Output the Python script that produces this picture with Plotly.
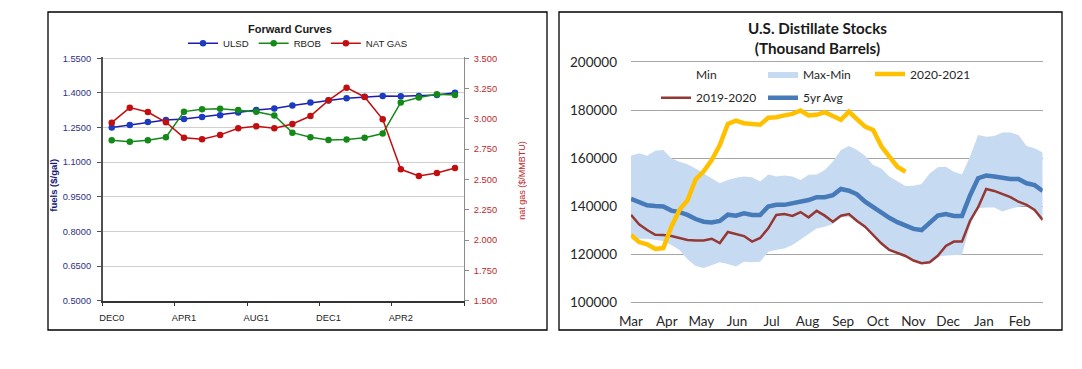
import plotly.graph_objects as go
import pandas as pd

# ---------------- Left chart: Forward Curves ----------------
fc_months = ["DEC0", "JAN1", "FEB1", "MAR1", "APR1", "MAY1", "JUN1", "JUL1", "AUG1", "SEP1",
             "OCT1", "NOV1", "DEC1", "JAN2", "FEB2", "MAR2", "APR2", "MAY2", "JUN2", "JUL2"]
fc_label_months = ["DEC0", "APR1", "AUG1", "DEC1", "APR2"]
ulsd = [1.250, 1.261, 1.274, 1.283, 1.287, 1.296, 1.303, 1.315, 1.326, 1.333,
        1.346, 1.358, 1.367, 1.377, 1.383, 1.387, 1.386, 1.387, 1.391, 1.401]
rbob = [1.195, 1.188, 1.195, 1.208, 1.319, 1.329, 1.331, 1.326, 1.318, 1.302,
        1.228, 1.208, 1.196, 1.198, 1.206, 1.224, 1.359, 1.380, 1.394, 1.391]
natgas = [2.969, 3.093, 3.057, 2.972, 2.845, 2.832, 2.868, 2.923, 2.939, 2.923,
          2.958, 3.024, 3.153, 3.258, 3.181, 2.997, 2.584, 2.529, 2.554, 2.595]

# ---------------- Right chart: U.S. Distillate Stocks ----------------
week_start = "2020-03-01"
stock_max = [161100, 162100, 161100, 163100, 163500, 160000, 158600, 157500, 155800, 153700,
             151700, 149600, 151000, 151900, 152400, 152100, 150300, 153300, 152400, 152800,
             152400, 151000, 153100, 153300, 155100, 158600, 163500, 165100, 163500, 161100,
             157200, 155800, 152400, 150600, 148500, 148600, 149300, 153700, 156300, 156500,
             154400, 153300, 160700, 169700, 169000, 169300, 170700, 170700, 169700, 165100,
             164200, 162400]
stock_min = [127500, 126500, 126500, 126000, 125500, 123900, 121800, 117900, 115100, 114300,
             115600, 116700, 116000, 114900, 116900, 116700, 116900, 121100, 121900, 122400,
             123900, 126300, 128500, 130800, 131500, 132600, 135300, 135500, 133500, 131000,
             127800, 124300, 121500, 120100, 119000, 117100, 116000, 116400, 119000, 119500,
             119800, 119800, 132000, 139200, 139500, 139500, 137800, 139000, 139800, 140300,
             138300, 134000]
avg_5yr = [143100, 141700, 140400, 140100, 139900, 138200, 137600, 136400, 134700, 133600,
           133300, 133900, 136500, 136100, 137100, 136400, 136400, 139900, 140600, 140600,
           141300, 141800, 142600, 143800, 143800, 144600, 147200, 146500, 145000, 141900,
           139600, 137800, 135200, 133400, 131900, 130600, 130100, 132900, 136100, 136800,
           136000, 136000, 144500, 151700, 152800, 152400, 151700, 151400, 151400, 149600,
           148800, 146400]
y2019_2020 = [136400, 132500, 130100, 128100, 128000, 127600, 126800, 126000, 125700, 125800,
              126500, 124700, 129300, 128500, 127600, 125300, 126800, 130800, 136400, 136800,
              136000, 137600, 135400, 138100, 136100, 133600, 136100, 136800, 133900, 131500,
              128100, 124600, 121800, 120400, 119300, 117400, 116300, 116700, 119400, 123500,
              125300, 125300, 134000, 139600, 147200, 146400, 145100, 143800, 141900, 140600,
              138500, 134300]
y2020_2021 = [128100, 125100, 124200, 122200, 122600, 131500, 138500, 142500, 151200, 154600,
              159300, 165500, 174300, 175700, 174600, 174400, 174000, 176900, 177100, 177900,
              178500, 179900, 177900, 178100, 179200, 177600, 176000, 179400, 176300, 173200,
              171800, 165100, 160700, 156500, 154400]

# The page body has an 8px margin, so the figure is 16px smaller than the window
OFF = 8
W, H = 1082 - 2 * OFF, 369 - 2 * OFF


def px(x):
    return (x - OFF) / W


def py(y):
    return 1 - (y - OFF) / H


fc_x = list(range(len(fc_months)))
fc_tickvals = [fc_months.index(m) for m in fc_label_months]
dates = pd.date_range(week_start, periods=len(avg_5yr), freq="7D")

LS = "Liberation Sans, Arial, sans-serif"
LATO = "Lato, Carlito, Calibri, sans-serif"

fig = go.Figure()

# Left chart traces
fig.add_trace(go.Scatter(x=fc_x, y=ulsd, name="ULSD", mode="lines+markers",
                         line=dict(color="#1c1cb4", width=1.5),
                         marker=dict(size=6.5, color="#1b3cc0"),
                         xaxis="x", yaxis="y", legend="legend"))
fig.add_trace(go.Scatter(x=fc_x, y=rbob, name="RBOB", mode="lines+markers",
                         line=dict(color="#138a18", width=1.5),
                         marker=dict(size=6.5, color="#138a18"),
                         xaxis="x", yaxis="y", legend="legend"))
fig.add_trace(go.Scatter(x=fc_x, y=natgas, name="NAT GAS", mode="lines+markers",
                         line=dict(color="#c20e0e", width=1.5),
                         marker=dict(size=6.5, color="#c20e0e"),
                         xaxis="x", yaxis="y2", legend="legend"))

# Right chart traces
fig.add_trace(go.Scatter(x=dates, y=stock_min, name="Min", mode="lines",
                         line=dict(width=0, color="rgba(0,0,0,0)"),
                         xaxis="x3", yaxis="y3", legend="legend2"))
fig.add_trace(go.Scatter(x=dates, y=stock_max, name="Max-Min", mode="lines",
                         line=dict(width=0, color="rgba(0,0,0,0)"),
                         fill="tonexty", fillcolor="#c6daf1",
                         xaxis="x3", yaxis="y3", legend="legend2"))
fig.add_trace(go.Scatter(x=dates, y=y2019_2020, name="2019-2020", mode="lines",
                         line=dict(color="#953735", width=2.5),
                         xaxis="x3", yaxis="y3", legend="legend3"))
fig.add_trace(go.Scatter(x=dates, y=avg_5yr, name="5yr Avg", mode="lines",
                         line=dict(color="#467ab9", width=4.5),
                         xaxis="x3", yaxis="y3", legend="legend3"))
fig.add_trace(go.Scatter(x=dates[:len(y2020_2021)], y=y2020_2021, name="2020-2021", mode="lines",
                         line=dict(color="#ffc000", width=4.5),
                         xaxis="x3", yaxis="y3", legend="legend2"))

left_top = 58.3 - 1.5
fig.update_layout(
    template="none",
    width=W, height=H,
    margin=dict(l=0, r=0, t=0, b=0, pad=0, autoexpand=False),
    paper_bgcolor="white", plot_bgcolor="white",
    showlegend=True,
    xaxis=dict(domain=[px(102.7), px(464)], anchor="y", range=[-0.5, 19.5], automargin=False,
               tickmode="array", tickvals=fc_tickvals,
               ticktext=[fc_months[i] for i in fc_tickvals],
               ticks="", showgrid=False, zeroline=False,
               showline=True, linecolor="#333333", linewidth=1.5,
               minor=dict(ticks="outside", tick0=-0.5, dtick=4, ticklen=4,
                          tickcolor="#333333", showgrid=False),
               tickfont=dict(family=LS, size=9.3, color="#1a1a1a"),
               ticklabelstandoff=7),
    yaxis=dict(domain=[py(300.7), py(left_top)], anchor="x", automargin=False,
               range=[0.5, 1.55 + 1.5 * 1.05 / 242.4],
               tickmode="linear", tick0=0.5, dtick=0.15, tickformat=".4f",
               showgrid=True, gridcolor="#d0d0d0", gridwidth=1, zeroline=False,
               showline=True, linecolor="#505050", linewidth=1.5,
               ticks="outside", ticklen=4, tickcolor="#505050",
               tickfont=dict(family=LS, size=9.3, color="#30307e"),
               ticklabelstandoff=4),
    yaxis2=dict(domain=[py(300.7), py(left_top)], anchor="x", overlaying="y", side="right",
                automargin=False,
                range=[1.5, 3.5 + 1.5 * 2.0 / 242.4],
                tickmode="linear", tick0=1.5, dtick=0.25, tickformat=".3f",
                showgrid=False, zeroline=False,
                showline=True, linecolor="#8c8c8c", linewidth=1,
                ticks="outside", ticklen=4, tickcolor="#8c8c8c",
                tickfont=dict(family=LS, size=9.3, color="#c0282d"),
                ticklabelstandoff=3),
    xaxis3=dict(domain=[px(631), px(1042.7)], anchor="y3", type="date", automargin=False,
                range=[dates[0], dates[-1]],
                tickformat="%b", dtick="M1", tick0=week_start,
                ticks="", showgrid=False, zeroline=False,
                showline=True, mirror=True, linecolor="#a6a6a6", linewidth=1,
                tickfont=dict(family=LATO, size=13.5, color="#262626"),
                ticklabelstandoff=6),
    yaxis3=dict(domain=[py(302.3), py(62.3)], anchor="x3", automargin=False,
                range=[100000, 200000], tickmode="linear", tick0=100000, dtick=20000,
                tickformat="d", showgrid=True, gridcolor="#a6a6a6", gridwidth=1,
                zeroline=False, showline=False, ticks="",
                tickfont=dict(family=LATO, size=13.5, color="#262626"),
                ticklabelstandoff=13),
    legend=dict(orientation="h", x=px(183), xanchor="left", y=py(43.3), yanchor="middle",
                bgcolor="rgba(0,0,0,0)", itemwidth=30, traceorder="normal",
                font=dict(family=LS, size=9.6, color="#1a1a1a")),
    legend2=dict(orientation="h", x=px(656), xanchor="left", y=py(74), yanchor="middle",
                 bgcolor="rgba(0,0,0,0)", entrywidth=62, itemwidth=30, traceorder="normal",
                 font=dict(family=LATO, size=12, color="#262626")),
    legend3=dict(orientation="h", x=px(656), xanchor="left", y=py(97.7), yanchor="middle",
                 bgcolor="rgba(0,0,0,0)", entrywidth=62, itemwidth=30, traceorder="normal",
                 font=dict(family=LATO, size=12, color="#262626")),
    annotations=[
        dict(text="<b>Forward Curves</b>", x=px(290), y=py(29), xref="paper", yref="paper",
             xanchor="center", yanchor="middle", showarrow=False,
             font=dict(family=LS, size=11, color="#1a1a1a")),
        dict(text="<b>fuels ($/gal)</b>", x=px(52.7), y=py(185), xref="paper", yref="paper",
             xanchor="center", yanchor="middle", showarrow=False, textangle=-90,
             font=dict(family=LS, size=9.5, color="#1a1a7a")),
        dict(text="nat gas ($/MMBTU)", x=px(521.7), y=py(180), xref="paper", yref="paper",
             xanchor="center", yanchor="middle", showarrow=False, textangle=-90,
             font=dict(family=LS, size=9, color="#c0282d")),
        dict(text="<b>U.S. Distillate Stocks<br>(Thousand Barrels)</b>", x=px(817), y=py(38.3),
             xref="paper", yref="paper", xanchor="center", yanchor="middle", showarrow=False,
             font=dict(family=LATO, size=15.2, color="#1a1a1a")),
    ],
    shapes=[
        dict(type="rect", xref="paper", yref="paper", x0=px(48), x1=px(547), y0=py(330), y1=py(12),
             line=dict(color="black", width=1.3), fillcolor="rgba(0,0,0,0)", layer="above"),
        dict(type="rect", xref="paper", yref="paper", x0=px(559), x1=px(1062), y0=py(330), y1=py(12),
             line=dict(color="black", width=1.3), fillcolor="rgba(0,0,0,0)", layer="above"),
    ],
)

fig.write_html("out.html")
